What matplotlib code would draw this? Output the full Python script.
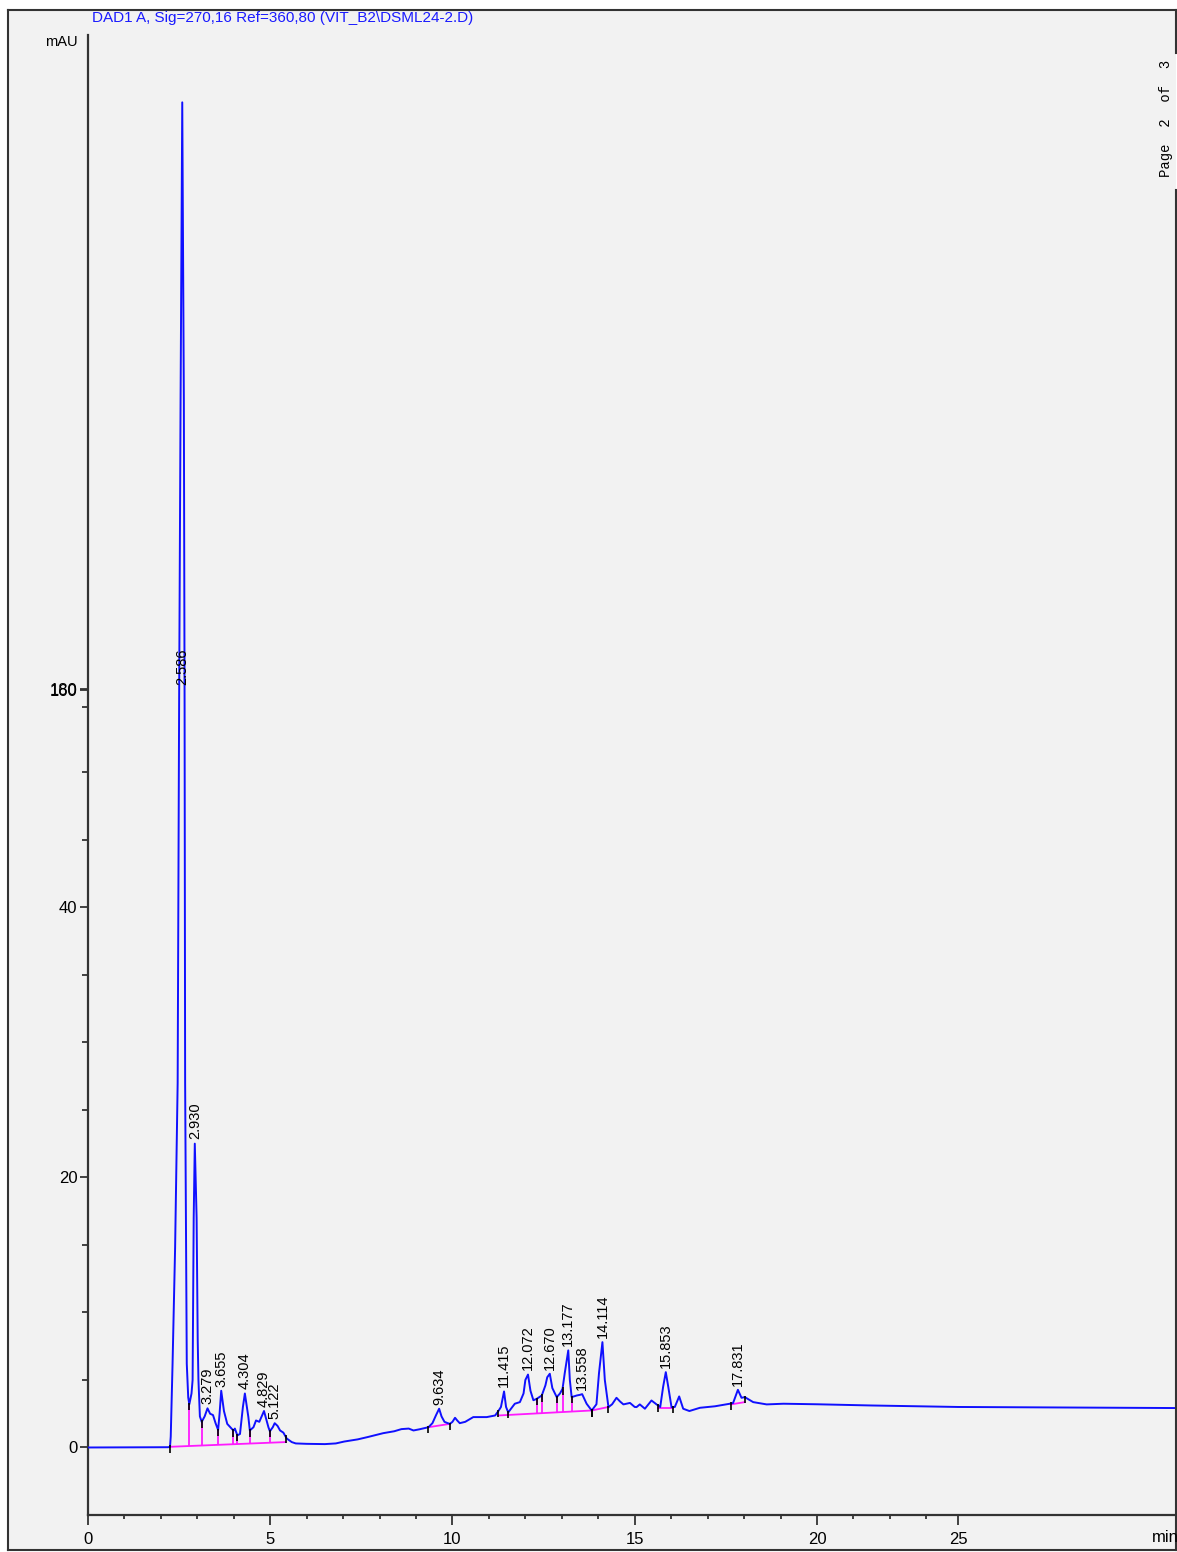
import numpy as np
import matplotlib.pyplot as plt
from matplotlib.lines import Line2D
from matplotlib.patches import Rectangle
from matplotlib.ticker import NullFormatter

plt.rcParams['font.family'] = ['Liberation Sans', 'DejaVu Sans']

# ----------------------
# Data: DAD1 A signal (time in min, absorbance in mAU)
# ----------------------
time_min = [
    0.0, 2.20, 2.25, 2.27, 2.32, 2.39, 2.46, 2.50, 2.54, 2.586, 2.63, 2.65, 2.665,
    2.71, 2.75, 2.78, 2.84, 2.87, 2.90, 2.93, 2.98, 3.01, 3.03, 3.07, 3.12,
    3.20, 3.279, 3.35, 3.43, 3.50, 3.57, 3.61, 3.655, 3.73, 3.82, 3.94, 3.99,
    4.03, 4.07, 4.10, 4.17, 4.25, 4.304, 4.36, 4.40, 4.44, 4.54, 4.61, 4.70,
    4.829, 4.95, 4.99, 5.07, 5.122, 5.20, 5.27, 5.36, 5.45, 5.59, 5.70, 6.0,
    6.5, 6.8, 7.03, 7.4, 7.67, 8.1, 8.4, 8.6, 8.8, 8.93, 9.1, 9.34, 9.45,
    9.55, 9.634, 9.70, 9.78, 9.87, 9.93, 10.0, 10.07, 10.13, 10.2, 10.35,
    10.57, 10.94, 11.17, 11.26, 11.33, 11.415, 11.47, 11.53, 11.60, 11.71,
    11.85, 11.95, 12.00, 12.072, 12.14, 12.22, 12.31, 12.45, 12.55, 12.60,
    12.670, 12.74, 12.86, 12.95, 13.02, 13.08, 13.177, 13.22, 13.27, 13.41,
    13.50, 13.558, 13.68, 13.82, 13.95, 14.02, 14.114, 14.18, 14.28, 14.38,
    14.5, 14.6, 14.69, 14.87, 15.0, 15.05, 15.14, 15.28, 15.46, 15.6, 15.7,
    15.78, 15.853, 15.92, 16.01, 16.10, 16.22, 16.33, 16.5, 16.79, 17.2,
    17.61, 17.7, 17.831, 17.93, 18.02, 18.25, 18.62, 19.08, 20.0, 21.5,
    25.0, 30.0,
]
signal_mau = [
    0.0, 0.02, 0.05, 0.8, 6.2, 14.8, 27.0, 145.0, 630.0, 1095.0, 630.0, 145.0, 27.0,
    6.2, 3.7, 3.2, 4.0, 5.0, 17.0, 22.5, 17.0, 8.0, 5.0, 2.3, 1.9,
    2.3, 2.9, 2.5, 2.4, 1.8, 1.3, 2.5, 4.2, 2.7, 1.75, 1.4, 1.25,
    1.4, 1.1, 0.9, 1.0, 3.0, 4.0, 3.0, 2.25, 1.26, 1.5, 2.0, 1.9,
    2.7, 1.5, 1.2, 1.5, 1.8, 1.6, 1.26, 1.1, 0.67, 0.4, 0.3, 0.27,
    0.25, 0.3, 0.44, 0.6, 0.77, 1.06, 1.2, 1.36, 1.4, 1.26, 1.35, 1.5, 1.8,
    2.4, 2.87, 2.3, 1.9, 1.8, 1.75, 1.9, 2.2, 2.0, 1.8, 1.9,
    2.25, 2.25, 2.37, 2.7, 3.0, 4.15, 3.0, 2.6, 2.85, 3.24,
    3.36, 4.0, 5.0, 5.4, 4.2, 3.5, 3.6, 3.85, 4.6, 5.2,
    5.46, 4.4, 3.73, 4.0, 4.35, 5.5, 7.19, 5.0, 3.73, 3.85,
    3.9, 3.95, 3.24, 2.74, 3.2, 5.5, 7.8, 5.0, 2.99, 3.2,
    3.68, 3.4, 3.19, 3.3, 3.0, 2.99, 3.19, 2.87, 3.48, 3.19, 3.0,
    4.5, 5.58, 4.5, 2.99, 3.0, 3.78, 2.87, 2.7, 2.94, 3.05,
    3.24, 3.3, 4.27, 3.68, 3.73, 3.36, 3.19, 3.24, 3.2, 3.11,
    3.0, 2.92,
]

# labelled peaks (retention times)
peak_rt = [2.586, 2.930, 3.279, 3.655, 4.304, 4.829, 5.122, 9.634, 11.415,
           12.072, 12.670, 13.177, 13.558, 14.114, 15.853, 17.831]

# integration baselines (start/end time and level)
base_t = [(2.25, 5.42), (9.34, 9.93), (11.26, 13.82), (13.82, 14.28),
          (15.65, 16.06), (17.64, 18.02)]
base_y = [(0.05, 0.4), (1.5, 1.75), (2.37, 2.74), (2.74, 3.0),
          (2.94, 2.94), (3.19, 3.36)]
drop_t = [2.78, 3.12, 3.57, 3.99, 4.10, 4.44, 4.99,
          11.53, 12.31, 12.45, 12.86, 13.02, 13.27]

x_major = [0, 5, 10, 15, 20, 25]
x_minor = [t for t in range(1, 24) if t % 5]
y_major = [0, 20, 40, 160, 180]
y_minor = [5, 10, 15, 25, 30, 35, 45, 50, 140]

# ----------------------
# Axis scales (piecewise, like the ChemStation print)
# ----------------------
Y_BRK = [-100, 50, 140, 160, 180, 1200, 5000]
Y_POS = [-100, 50, 54.8, 56.1, 56.15, 104.6, 285.1]
X_BRK = [-100, 23, 25, 100]
X_POS = [-100, 23, 23.87, 114.0]


def y_fwd(v):
    return np.interp(v, Y_BRK, Y_POS)


def y_inv(v):
    return np.interp(v, Y_POS, Y_BRK)


def x_fwd(v):
    return np.interp(v, X_BRK, X_POS)


def x_inv(v):
    return np.interp(v, X_POS, X_BRK)


# ----------------------
# Plotting
# ----------------------
W, H = 1177, 1552
fig = plt.figure(figsize=(W / 100, H / 100), dpi=100)
fig.patch.set_facecolor('white')

# page frame
fig.patches.append(Rectangle((8 / W, 1 - 1550 / H), (1176 - 8) / W, (1550 - 10) / H,
                             transform=fig.transFigure, facecolor='#f2f2f2',
                             edgecolor='none', zorder=-5))
frame_kw = dict(transform=fig.transFigure, color='#333333', lw=1.5)
for xs, ys in [((8, 1176), (10, 10)), ((8, 8), (10, 1550)), ((8, 1176), (1550, 1550)),
               ((1176, 1176), (10, 53)), ((1176, 1176), (190, 1550))]:
    fig.lines.append(Line2D([x / W for x in xs], [1 - y / H for y in ys], **frame_kw))

ax = fig.add_axes([88 / W, 1 - 1515 / H, (1177 - 88) / W, (1515 - 35) / H])
ax.set_facecolor('none')
ax.set_xscale('function', functions=(x_fwd, x_inv))
ax.set_yscale('function', functions=(y_fwd, y_inv))
ax.set_xlim(0, 30)
ax.set_ylim(-5, 1200)

t = np.array(time_min)
s = np.array(signal_mau)
ax.plot(t, s, color='#1010ff', lw=1.4, zorder=3)

# baselines and drop lines
for (t0, t1), (y0, y1) in zip(base_t, base_y):
    ax.plot([t0, t1], [y0, y1], color='#ff1aff', lw=1.3, zorder=2)
    for tb in (t0, t1):
        yb = np.interp(tb, t, s)
        ax.vlines(tb, yb - 0.45, yb + 0.1, color='black', lw=1.2, zorder=4)
for td in drop_t:
    for (t0, t1), (y0, y1) in zip(base_t, base_y):
        if t0 <= td <= t1:
            yb = np.interp(td, [t0, t1], [y0, y1])
            ytop = np.interp(td, t, s)
            ax.vlines(td, yb, ytop, color='#ff1aff', lw=1.3, zorder=2)
            ax.vlines(td, ytop - 0.45, ytop + 0.1, color='black', lw=1.2, zorder=4)

# retention time labels
for rt in peak_rt:
    h = np.interp(rt, t, s)
    ax.annotate(f'{rt:.3f}', (rt, min(h, 180)), xytext=(0, 3), textcoords='offset points',
                rotation=90, ha='center', va='bottom', fontsize=10.5, color='black', zorder=5)

# axes styling
for side in ('top', 'right'):
    ax.spines[side].set_visible(False)
for side in ('left', 'bottom'):
    ax.spines[side].set_color('#333333')
    ax.spines[side].set_linewidth(1.6)

ax.set_xticks(x_major)
ax.set_xticks(x_minor, minor=True)
ax.set_xticklabels([str(v) for v in x_major])
ax.set_yticks(y_major)
ax.set_yticks(y_minor, minor=True)
ax.set_yticklabels([str(v) for v in y_major])
ax.xaxis.set_minor_formatter(NullFormatter())
ax.yaxis.set_minor_formatter(NullFormatter())
ax.tick_params(axis='x', which='major', length=7, width=1.3, pad=5, labelsize=12, color='#333333')
ax.tick_params(axis='x', which='minor', length=3, width=1.3, color='#333333')
ax.tick_params(axis='y', which='major', length=6, width=1.3, pad=1.5, labelsize=12, color='#333333')
ax.tick_params(axis='y', which='minor', length=4, width=1.3, color='#333333')

fig.text(92 / W, 1 - 18 / H, r'DAD1 A, Sig=270,16 Ref=360,80 (VIT_B2\DSML24-2.D)',
         color='#1a1aff', fontsize=11, ha='left', va='center')
fig.text(78 / W, 1 - 42 / H, 'mAU', fontsize=10.5, ha='right', va='center')
fig.text(1165 / W, 1 - 1538 / H, 'min', fontsize=12, ha='center', va='center')
fig.text(1166 / W, 1 - 118 / H, 'Page  2  of  3', family='Liberation Mono', fontsize=10,
         rotation=90, ha='center', va='center')

fig.savefig('out.png', dpi=100)
